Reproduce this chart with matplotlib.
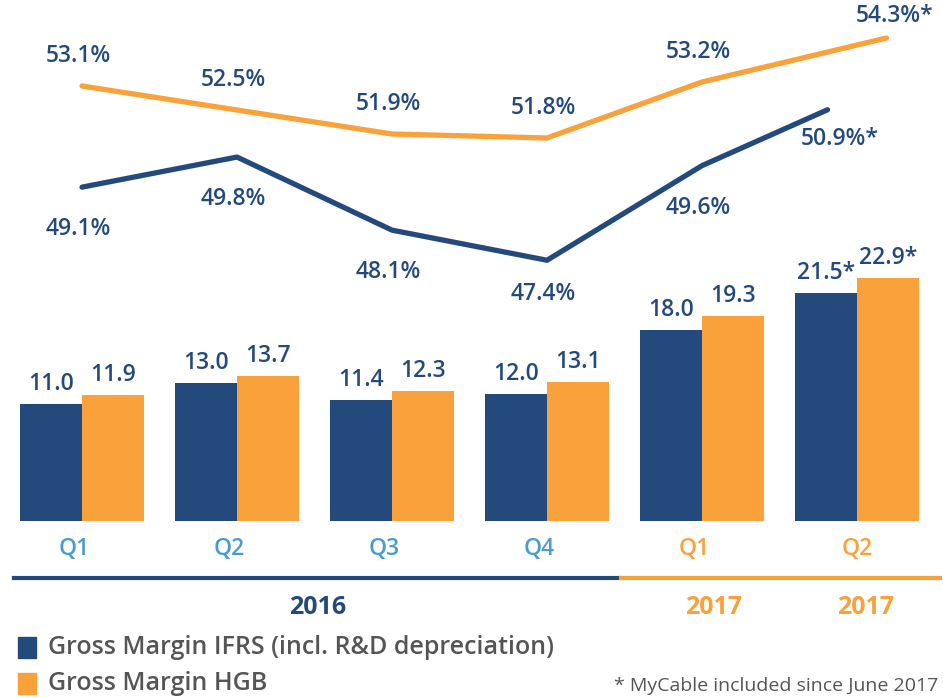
import numpy as np
import matplotlib
matplotlib.use("Agg")
import matplotlib.pyplot as plt

plt.rcParams['font.family'] = ['Open Sans', 'DejaVu Sans']
plt.rcParams['font.weight'] = 'semibold'

# data
quarters = ['Q1', 'Q2', 'Q3', 'Q4', 'Q1', 'Q2']
years = ['2016', '2016', '2016', '2016', '2017', '2017']
ifrs_sales = [11.0, 13.0, 11.4, 12.0, 18.0, 21.5]
hgb_sales = [11.9, 13.7, 12.3, 13.1, 19.3, 22.9]
ifrs_margin = [49.1, 49.8, 48.1, 47.4, 49.6, 50.9]
hgb_margin = [53.1, 52.5, 51.9, 51.8, 53.2, 54.3]
starred = [False, False, False, False, False, True]

BLUE = '#244a7d'
ORANGE = '#f9a13a'
LIGHT_BLUE = '#4a9bd2'
GREY = '#555555'

W, H = 943, 698
fig = plt.figure(figsize=(W / 100, H / 100), dpi=100)
ax = fig.add_axes([0, 0, 1, 1])
ax.set_xlim(-82 / 155, (W - 82) / 155)
ax.set_ylim(-177 / 10.6, (H - 177) / 10.6)
ax.axis('off')

x = np.arange(len(quarters))
bw = 0.4
b1 = ax.bar(x - bw / 2, ifrs_sales, bw, color=BLUE)
b2 = ax.bar(x + bw / 2, hgb_sales, bw, color=ORANGE)

for bars, vals in ((b1, ifrs_sales), (b2, hgb_sales)):
    for i, (r, v) in enumerate(zip(bars, vals)):
        lbl = f"{v:.1f}" + ("*" if starred[i] else "")
        ax.annotate(lbl, (r.get_x() + r.get_width() / 2, v), xytext=(0, 8),
                    textcoords='offset pixels', ha='center', va='bottom',
                    fontsize=16.5, color=BLUE)

# quarter labels
for i, q in enumerate(quarters):
    c = LIGHT_BLUE if years[i] == '2016' else ORANGE
    ax.annotate(q, (x[i], 0), xytext=(-8 if i < 5 else 0, -28), textcoords='offset pixels',
                ha='center', va='center', fontsize=16.5, color=c)

# margin lines on their own invisible axes
ax_h = fig.add_axes([0, 0, 1, 1], sharex=ax)
ax_h.set_ylim(52.8 - (H - 98) / 40, 52.8 + 98 / 40)
ax_h.axis('off')
ax_b = fig.add_axes([0, 0, 1, 1], sharex=ax)
ax_b.set_ylim(49.15 - (H - 185) / 43, 49.15 + 185 / 43)
ax_b.axis('off')

hx = np.array(x, dtype=float)
hx[-1] += 0.19
bx = np.array(x, dtype=float)
bx[-1] -= 0.19
ax_h.plot(hx, hgb_margin, color=ORANGE, lw=3.8, solid_capstyle='round')
ax_b.plot(bx, ifrs_margin, color=BLUE, lw=3.8, solid_capstyle='round')

for i, v in enumerate(hgb_margin):
    lbl = f"{v:.1f}%" + ("*" if starred[i] else "")
    ax_h.annotate(lbl, (hx[i] if starred[i] else x[i], v),
                  xytext=(8 if starred[i] else -4, 22 if starred[i] else 30),
                  textcoords='offset pixels', ha='center', va='center',
                  fontsize=16.5, color=BLUE)
for i, v in enumerate(ifrs_margin):
    lbl = f"{v:.1f}%" + ("*" if starred[i] else "")
    off = -42 if i != 3 else -34
    ax_b.annotate(lbl, (x[i] if not starred[i] else bx[i], v),
                  xytext=(12 if starred[i] else -4, off if not starred[i] else -29),
                  textcoords='offset pixels', ha='center', va='center',
                  fontsize=16.5, color=BLUE)

# year separator
def fx(px):
    return px / W

def fy(py):
    return 1 - py / H

fig.add_artist(plt.Line2D([fx(14), fx(621)], [fy(578), fy(578)], color=BLUE, lw=3))
fig.add_artist(plt.Line2D([fx(621), fx(940)], [fy(578), fy(578)], color=ORANGE, lw=3))

fig.text(fx(318), fy(608), '2016', ha='center', va='center', fontsize=18,
         fontweight='bold', color=BLUE)
fig.text(fx(714), fy(608), '2017', ha='center', va='center', fontsize=18,
         fontweight='bold', color=ORANGE)
fig.text(fx(866), fy(608), '2017', ha='center', va='center', fontsize=18,
         fontweight='bold', color=ORANGE)

# legend
fig.add_artist(plt.Rectangle((fx(18), fy(658)), 18 / W, 21 / H, color=BLUE))
fig.add_artist(plt.Rectangle((fx(18), fy(694)), 18 / W, 21 / H, color=ORANGE))
fig.text(fx(48), fy(648), 'Gross Margin IFRS (incl. R&D depreciation)', ha='left',
         va='center', fontsize=18, color=GREY)
fig.text(fx(48), fy(684), 'Gross Margin HGB', ha='left', va='center', fontsize=18,
         color=GREY)
fig.text(fx(938), fy(686), '* MyCable included since June 2017', ha='right',
         va='center', fontsize=14, fontweight='normal', color=GREY)

fig.savefig('out.png', dpi=100)
